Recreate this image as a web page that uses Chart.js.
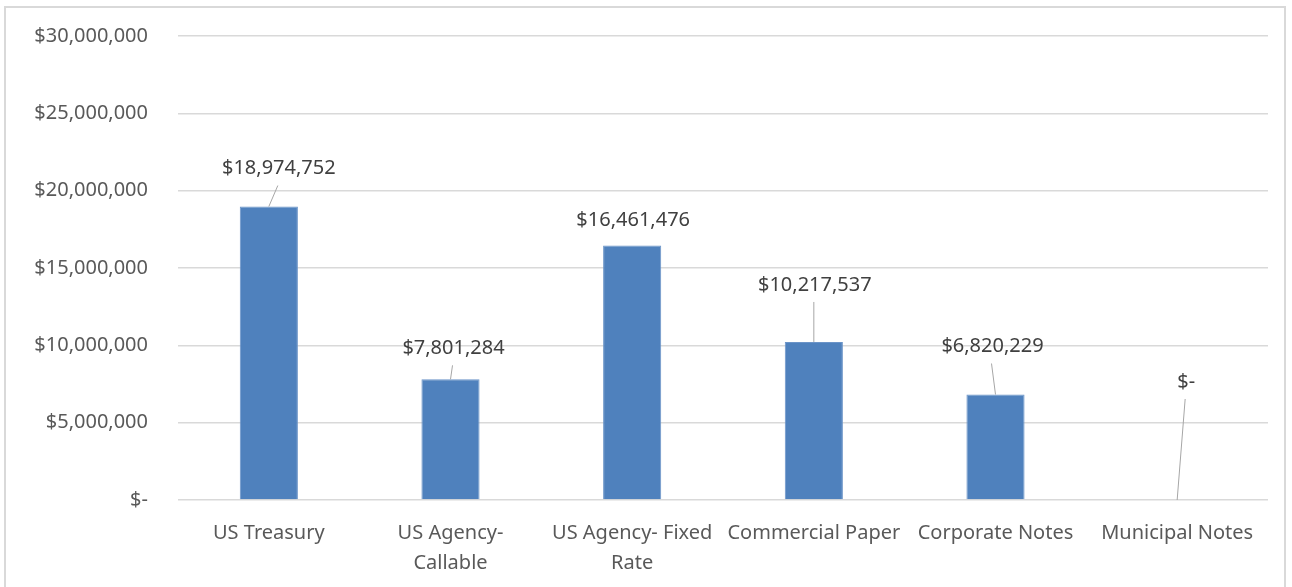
<!DOCTYPE html>
<html>
<head>
<meta charset="utf-8">
<script src="https://cdn.jsdelivr.net/npm/chart.js@4.4.1/dist/chart.umd.min.js"></script>
<style>
  html, body { margin: 0; padding: 0; background: #fff; }
  #frame {
    position: absolute; left: 4px; top: 6px;
    width: 1282px; height: 590px;
    border: 2px solid #d9d9d9; box-sizing: border-box;
  }
  #wrap { position: absolute; left: 0; top: 0; width: 1278px; height: 586px; }
</style>
</head>
<body>
<div id="frame"><div id="wrap"><canvas id="chart"></canvas></div></div>
<script>
const categories = [
  "US Treasury",
  ["US Agency-", "Callable"],
  ["US Agency- Fixed", "Rate"],
  "Commercial Paper",
  "Corporate Notes",
  "Municipal Notes"
]
const values = [18974752, 7801284, 16461476, 10217537, 6820229, 0]
const yTicks = [0, 5000000, 10000000, 15000000, 20000000, 25000000, 30000000]

// where each value label sits, relative to the top of its bar (px)
const labelOffsets = [[10, -38], [3, -31], [1, -25], [1, -57], [-3, -48], [9, -118]]

const money = v => v === 0 ? "$-" : "$" + v.toLocaleString("en-US")

const font      = "'Noto Sans', sans-serif"
const tickColor = "#595959"
const gridColor = "#d9d9d9"

const valueLabels = {
  id: "valueLabels",
  afterDatasetsDraw(chart) {
    const { ctx } = chart
    const meta = chart.getDatasetMeta(0)
    ctx.save()
    ctx.font = `20px ${font}`
    ctx.textAlign = "center"
    ctx.textBaseline = "middle"
    meta.data.forEach((bar, i) => {
      const [dx, dy] = labelOffsets[i]
      const lx = bar.x + dx
      const ly = bar.y + dy
      const start = ly + 17
      if (bar.y - start > 10) {
        ctx.strokeStyle = "#a6a6a6"
        ctx.lineWidth = 1
        ctx.beginPath()
        ctx.moveTo(lx - 1, start)
        ctx.lineTo(bar.x, bar.y)
        ctx.stroke()
      }
      ctx.fillStyle = "#404040"
      ctx.fillText(money(values[i]), lx, ly)
    })
    ctx.restore()
  }
}

new Chart(document.getElementById("chart"), {
  type: "bar",
  data: {
    labels: categories,
    datasets: [{
      data: values,
      backgroundColor: "#4f81bd",
      borderColor: "#6b94c8",
      borderWidth: 1,
      barPercentage: 0.64,
      categoryPercentage: 0.5
    }]
  },
  options: {
    responsive: true,
    maintainAspectRatio: false,
    animation: false,
    layout: { padding: { top: 28, right: 16, bottom: 0, left: 0 } },
    plugins: {
      legend:  { display: false },
      tooltip: { enabled: false }
    },
    scales: {
      x: {
        grid:   { display: false },
        border: { display: false },
        ticks:  {
          color: tickColor, font: { family: font, size: 20, lineHeight: 1.5 },
          maxRotation: 0, autoSkip: false, padding: 10
        },
        afterFit: s => { s.height = 94 }
      },
      y: {
        min: 0,
        max: 30000000,
        afterBuildTicks: s => { s.ticks = yTicks.map(v => ({ value: v })) },
        grid:   { color: gridColor, lineWidth: 1.5, tickColor: "rgba(0,0,0,0)", tickLength: 28 },
        border: { display: false },
        ticks:  { color: tickColor, font: { family: font, size: 20 }, padding: 2, callback: v => money(v) },
        afterFit: s => { s.width = 172 }
      }
    }
  },
  plugins: [valueLabels]
})
</script>
</body>
</html>
